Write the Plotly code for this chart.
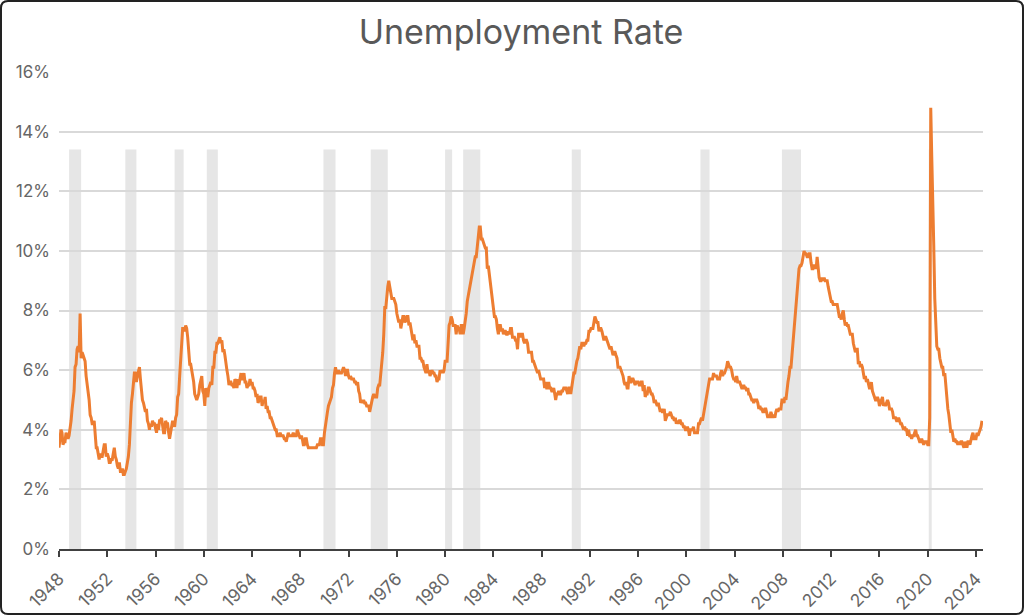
import pandas as pd
import plotly.graph_objects as go

start_month = "1948-01-01"
unemployment_rate = [
    # 1948
    3.4, 3.8, 4.0, 3.9, 3.5, 3.6, 3.6, 3.9, 3.8, 3.7, 3.8, 4.0,
    # 1949
    4.3, 4.7, 5.0, 5.3, 6.1, 6.2, 6.7, 6.8, 6.6, 7.9, 6.4, 6.6,
    # 1950
    6.5, 6.4, 6.3, 5.8, 5.5, 5.4, 5.0, 4.5, 4.4, 4.2, 4.2, 4.3,
    # 1951
    3.7, 3.4, 3.4, 3.1, 3.0, 3.2, 3.1, 3.1, 3.3, 3.5, 3.5, 3.1,
    # 1952
    3.2, 3.1, 2.9, 2.9, 3.0, 3.0, 3.2, 3.4, 3.1, 3.0, 2.8, 2.7,
    # 1953
    2.9, 2.6, 2.6, 2.7, 2.5, 2.5, 2.6, 2.7, 2.9, 3.1, 3.5, 4.5,
    # 1954
    4.9, 5.2, 5.7, 5.9, 5.9, 5.6, 5.8, 6.0, 6.1, 5.7, 5.3, 5.0,
    # 1955
    4.9, 4.7, 4.6, 4.7, 4.3, 4.2, 4.0, 4.2, 4.1, 4.3, 4.2, 4.2,
    # 1956
    4.0, 3.9, 4.2, 4.0, 4.3, 4.3, 4.4, 4.1, 3.9, 3.9, 4.3, 4.2,
    # 1957
    4.2, 3.9, 3.7, 3.9, 4.1, 4.3, 4.2, 4.1, 4.4, 4.5, 5.1, 5.2,
    # 1958
    5.8, 6.4, 6.7, 7.4, 7.4, 7.3, 7.5, 7.4, 7.1, 6.7, 6.2, 6.2,
    # 1959
    6.0, 5.9, 5.6, 5.2, 5.1, 5.0, 5.1, 5.2, 5.5, 5.7, 5.8, 5.3,
    # 1960
    5.2, 4.8, 5.4, 5.2, 5.1, 5.4, 5.5, 5.6, 5.5, 6.1, 6.1, 6.6,
    # 1961
    6.6, 6.9, 6.9, 7.0, 7.1, 6.9, 7.0, 6.6, 6.7, 6.5, 6.1, 6.0,
    # 1962
    5.8, 5.5, 5.6, 5.6, 5.5, 5.5, 5.4, 5.7, 5.6, 5.4, 5.7, 5.5,
    # 1963
    5.7, 5.9, 5.7, 5.7, 5.9, 5.6, 5.6, 5.4, 5.5, 5.5, 5.7, 5.5,
    # 1964
    5.6, 5.4, 5.4, 5.3, 5.1, 5.2, 4.9, 5.0, 5.1, 5.1, 4.8, 5.0,
    # 1965
    4.9, 5.1, 4.7, 4.8, 4.6, 4.6, 4.4, 4.4, 4.3, 4.2, 4.1, 4.0,
    # 1966
    4.0, 3.8, 3.8, 3.8, 3.9, 3.8, 3.8, 3.8, 3.7, 3.7, 3.6, 3.8,
    # 1967
    3.9, 3.8, 3.8, 3.8, 3.8, 3.9, 3.8, 3.8, 3.8, 4.0, 3.9, 3.8,
    # 1968
    3.7, 3.8, 3.7, 3.5, 3.5, 3.7, 3.7, 3.5, 3.4, 3.4, 3.4, 3.4,
    # 1969
    3.4, 3.4, 3.4, 3.4, 3.4, 3.5, 3.5, 3.5, 3.7, 3.7, 3.5, 3.5,
    # 1970
    3.9, 4.2, 4.4, 4.6, 4.8, 4.9, 5.0, 5.1, 5.4, 5.5, 5.9, 6.1,
    # 1971
    5.9, 5.9, 6.0, 5.9, 5.9, 5.9, 6.0, 6.1, 6.0, 5.8, 6.0, 6.0,
    # 1972
    5.8, 5.7, 5.8, 5.7, 5.7, 5.7, 5.6, 5.6, 5.5, 5.6, 5.3, 5.2,
    # 1973
    4.9, 5.0, 4.9, 5.0, 4.9, 4.9, 4.8, 4.8, 4.8, 4.6, 4.8, 4.9,
    # 1974
    5.1, 5.2, 5.1, 5.1, 5.1, 5.4, 5.5, 5.5, 5.9, 6.0, 6.6, 7.2,
    # 1975
    8.1, 8.1, 8.6, 8.8, 9.0, 8.8, 8.6, 8.4, 8.4, 8.4, 8.3, 8.2,
    # 1976
    7.9, 7.7, 7.6, 7.7, 7.4, 7.6, 7.8, 7.8, 7.6, 7.7, 7.8, 7.8,
    # 1977
    7.5, 7.6, 7.4, 7.2, 7.0, 7.2, 6.9, 7.0, 6.8, 6.8, 6.8, 6.4,
    # 1978
    6.4, 6.3, 6.3, 6.1, 6.0, 5.9, 6.2, 5.9, 6.0, 5.8, 5.9, 6.0,
    # 1979
    5.9, 5.9, 5.8, 5.8, 5.6, 5.7, 5.7, 6.0, 5.9, 6.0, 5.9, 6.0,
    # 1980
    6.3, 6.3, 6.3, 6.9, 7.5, 7.6, 7.8, 7.7, 7.5, 7.5, 7.5, 7.2,
    # 1981
    7.5, 7.4, 7.4, 7.2, 7.5, 7.5, 7.2, 7.4, 7.6, 7.9, 8.3, 8.5,
    # 1982
    8.6, 8.9, 9.0, 9.3, 9.4, 9.6, 9.8, 9.8, 10.1, 10.4, 10.8, 10.8,
    # 1983
    10.4, 10.4, 10.3, 10.2, 10.1, 10.1, 9.4, 9.5, 9.2, 8.8, 8.5, 8.3,
    # 1984
    8.0, 7.8, 7.8, 7.7, 7.4, 7.2, 7.5, 7.5, 7.3, 7.4, 7.2, 7.3,
    # 1985
    7.3, 7.2, 7.2, 7.3, 7.2, 7.4, 7.4, 7.1, 7.1, 7.1, 7.0, 7.0,
    # 1986
    6.7, 7.2, 7.2, 7.1, 7.2, 7.2, 7.0, 6.9, 7.0, 7.0, 6.9, 6.6,
    # 1987
    6.6, 6.6, 6.6, 6.3, 6.3, 6.2, 6.1, 6.0, 5.9, 6.0, 5.8, 5.7,
    # 1988
    5.7, 5.7, 5.7, 5.4, 5.6, 5.4, 5.4, 5.6, 5.4, 5.4, 5.3, 5.3,
    # 1989
    5.4, 5.2, 5.0, 5.2, 5.2, 5.3, 5.2, 5.2, 5.3, 5.3, 5.4, 5.4,
    # 1990
    5.4, 5.3, 5.2, 5.4, 5.4, 5.2, 5.5, 5.7, 5.9, 5.9, 6.2, 6.3,
    # 1991
    6.4, 6.6, 6.8, 6.7, 6.9, 6.9, 6.8, 6.9, 6.9, 7.0, 7.0, 7.3,
    # 1992
    7.3, 7.4, 7.4, 7.4, 7.6, 7.8, 7.7, 7.6, 7.6, 7.3, 7.4, 7.4,
    # 1993
    7.3, 7.1, 7.0, 7.1, 7.1, 7.0, 6.9, 6.8, 6.7, 6.8, 6.6, 6.5,
    # 1994
    6.6, 6.6, 6.5, 6.4, 6.1, 6.1, 6.1, 6.0, 5.9, 5.8, 5.6, 5.5,
    # 1995
    5.6, 5.4, 5.4, 5.8, 5.6, 5.6, 5.7, 5.7, 5.6, 5.5, 5.6, 5.6,
    # 1996
    5.6, 5.5, 5.5, 5.6, 5.6, 5.3, 5.5, 5.1, 5.2, 5.2, 5.4, 5.4,
    # 1997
    5.3, 5.2, 5.2, 5.1, 4.9, 5.0, 4.9, 4.8, 4.9, 4.7, 4.6, 4.7,
    # 1998
    4.6, 4.6, 4.7, 4.3, 4.4, 4.5, 4.5, 4.5, 4.6, 4.5, 4.4, 4.4,
    # 1999
    4.3, 4.4, 4.2, 4.3, 4.2, 4.3, 4.3, 4.2, 4.2, 4.1, 4.1, 4.0,
    # 2000
    4.0, 4.1, 4.0, 3.8, 4.0, 4.0, 4.0, 4.1, 3.9, 3.9, 3.9, 3.9,
    # 2001
    4.2, 4.2, 4.3, 4.4, 4.3, 4.5, 4.6, 4.9, 5.0, 5.3, 5.5, 5.7,
    # 2002
    5.7, 5.7, 5.7, 5.9, 5.8, 5.8, 5.8, 5.7, 5.7, 5.7, 5.9, 6.0,
    # 2003
    5.8, 5.9, 5.9, 6.0, 6.1, 6.3, 6.2, 6.1, 6.1, 6.0, 5.8, 5.7,
    # 2004
    5.7, 5.6, 5.8, 5.6, 5.6, 5.6, 5.5, 5.4, 5.4, 5.5, 5.4, 5.4,
    # 2005
    5.3, 5.4, 5.2, 5.2, 5.1, 5.0, 5.0, 4.9, 5.0, 5.0, 5.0, 4.9,
    # 2006
    4.7, 4.8, 4.7, 4.7, 4.6, 4.6, 4.7, 4.7, 4.5, 4.4, 4.5, 4.4,
    # 2007
    4.6, 4.5, 4.4, 4.5, 4.4, 4.6, 4.7, 4.6, 4.7, 4.7, 4.7, 5.0,
    # 2008
    5.0, 4.9, 5.1, 5.0, 5.4, 5.6, 5.8, 6.1, 6.1, 6.5, 6.8, 7.3,
    # 2009
    7.8, 8.3, 8.7, 9.0, 9.4, 9.5, 9.5, 9.6, 9.8, 10.0, 9.9, 9.9,
    # 2010
    9.8, 9.8, 9.9, 9.9, 9.6, 9.4, 9.4, 9.5, 9.5, 9.4, 9.8, 9.3,
    # 2011
    9.1, 9.0, 9.0, 9.1, 9.0, 9.1, 9.0, 9.0, 9.0, 8.8, 8.6, 8.5,
    # 2012
    8.3, 8.3, 8.2, 8.2, 8.2, 8.2, 8.2, 8.0, 7.8, 7.8, 7.7, 7.9,
    # 2013
    8.0, 7.7, 7.5, 7.6, 7.5, 7.5, 7.3, 7.2, 7.2, 7.2, 6.9, 6.7,
    # 2014
    6.6, 6.7, 6.7, 6.2, 6.3, 6.1, 6.2, 6.1, 5.9, 5.7, 5.8, 5.6,
    # 2015
    5.7, 5.5, 5.4, 5.4, 5.6, 5.3, 5.2, 5.1, 5.0, 5.0, 5.1, 5.0,
    # 2016
    4.8, 4.9, 5.0, 5.1, 4.8, 4.9, 4.8, 4.9, 5.0, 4.9, 4.7, 4.7,
    # 2017
    4.7, 4.6, 4.4, 4.4, 4.4, 4.3, 4.3, 4.4, 4.3, 4.2, 4.2, 4.1,
    # 2018
    4.0, 4.1, 4.0, 4.0, 3.8, 4.0, 3.8, 3.8, 3.7, 3.8, 3.8, 3.9,
    # 2019
    4.0, 3.8, 3.8, 3.7, 3.6, 3.6, 3.7, 3.6, 3.5, 3.6, 3.6, 3.6,
    # 2020
    3.5, 3.5, 4.4, 14.8, 13.2, 11.0, 10.2, 8.4, 7.8, 6.8, 6.7, 6.7,
    # 2021
    6.4, 6.2, 6.1, 6.1, 5.8, 5.9, 5.4, 5.1, 4.7, 4.5, 4.2, 3.9,
    # 2022
    4.0, 3.8, 3.6, 3.7, 3.6, 3.6, 3.5, 3.6, 3.5, 3.6, 3.6, 3.5,
    # 2023
    3.4, 3.6, 3.5, 3.4, 3.6, 3.6, 3.5, 3.7, 3.8, 3.9, 3.7, 3.7,
    # 2024
    3.7, 3.9, 3.8, 3.9, 4.0, 4.1, 4.3,
]

# NBER recession periods (start of first month, end of last month)
recession_start = ["1948-11-01", "1953-07-01", "1957-08-01", "1960-04-01",
                   "1969-12-01", "1973-11-01", "1980-01-01", "1981-07-01",
                   "1990-07-01", "2001-03-01", "2007-12-01", "2020-02-01"]
recession_end = ["1949-11-01", "1954-06-01", "1958-05-01", "1961-03-01",
                 "1970-12-01", "1975-04-01", "1980-08-01", "1982-12-01",
                 "1991-04-01", "2001-12-01", "2009-07-01", "2020-05-01"]
recession_height = 13.4

tick_years = list(range(1948, 2025, 4))

dates = pd.date_range(start_month, periods=len(unemployment_rate), freq="MS")

fig = go.Figure()
fig.add_trace(go.Scatter(
    x=dates, y=unemployment_rate, mode="lines",
    line=dict(color="#ED7D31", width=3),
    hoverinfo="x+y", showlegend=False,
))

shapes = []
for s, e in zip(recession_start, recession_end):
    shapes.append(dict(type="rect", xref="x", yref="y", x0=s, x1=e,
                       y0=0, y1=recession_height, fillcolor="#E6E6E6",
                       line=dict(width=0), layer="below"))

# outer rounded frame
W, H = 1024, 615
L, R, T, B = 59, 41, 72, 66
pw, ph = W - L - R, H - T - B


def px(xp):
    return (xp - L) / pw


def py(yp):
    return (T + ph - yp) / ph


x0f, x1f, y0f, y1f, rad = 1, 1023, 1, 614, 7
path = (f"M {px(x0f + rad)},{py(y0f)} L {px(x1f - rad)},{py(y0f)} "
        f"Q {px(x1f)},{py(y0f)} {px(x1f)},{py(y0f + rad)} "
        f"L {px(x1f)},{py(y1f - rad)} "
        f"Q {px(x1f)},{py(y1f)} {px(x1f - rad)},{py(y1f)} "
        f"L {px(x0f + rad)},{py(y1f)} "
        f"Q {px(x0f)},{py(y1f)} {px(x0f)},{py(y1f - rad)} "
        f"L {px(x0f)},{py(y0f + rad)} "
        f"Q {px(x0f)},{py(y0f)} {px(x0f + rad)},{py(y0f)} Z")
shapes.append(dict(type="path", xref="paper", yref="paper", path=path,
                   line=dict(color="#222222", width=2),
                   fillcolor="rgba(0,0,0,0)", layer="above"))

fig.update_layout(
    width=W, height=H,
    margin=dict(l=L, r=R, t=T, b=B, autoexpand=False),
    paper_bgcolor="white", plot_bgcolor="white",
    font=dict(family="Inter, Open Sans, sans-serif", color="#595959"),
    title=dict(text="Unemployment Rate", x=0.5, xref="paper", xanchor="center",
               y=1 - 32 / H, yanchor="middle",
               font=dict(size=34, color="#595959")),
    shapes=shapes,
    xaxis=dict(
        type="date",
        automargin=False,
        range=["1948-01-01", "2024-07-31"],
        tickvals=[f"{y}-01-01" for y in tick_years],
        ticktext=[str(y) for y in tick_years],
        tickangle=-45,
        ticks="outside", ticklen=6, tickwidth=1.5, tickcolor="#404040",
        showline=True, linecolor="#404040", linewidth=1.5,
        showgrid=False, zeroline=False,
        tickfont=dict(size=17.5, color="#666666"),
        ticklabelstandoff=5,
    ),
    yaxis=dict(
        automargin=False,
        range=[0, 16], dtick=2, tick0=0,
        ticksuffix="%",
        showgrid=True, gridcolor="#D9D9D9", gridwidth=1.5,
        zeroline=False, showline=False, ticks="",
        tickfont=dict(size=17, color="#666666"),
        ticklabelstandoff=8,
    ),
)

fig.write_html("out.html")
